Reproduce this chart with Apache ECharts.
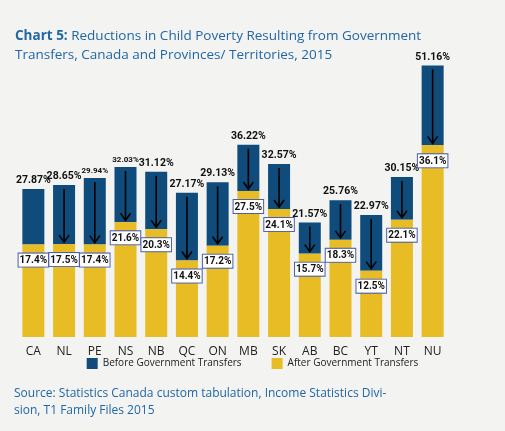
<!DOCTYPE html>
<html lang="en">
<head>
<meta charset="UTF-8" />
<title>Chart 5</title>
<script src="https://cdn.jsdelivr.net/npm/echarts@6/dist/echarts.min.js"></script>
<style>
  html, body { margin: 0; padding: 0; background: #f3f3f1; }
  #chart { width: 505px; height: 431px; }
</style>
</head>
<body>
<div id="chart"></div>
<script>
const regions = ['CA', 'NL', 'PE', 'NS', 'NB', 'QC', 'ON', 'MB', 'SK', 'AB', 'BC', 'YT', 'NT', 'NU'];
const beforeTransfers = [27.87, 28.65, 29.94, 32.03, 31.12, 27.17, 29.13, 36.22, 32.57, 21.57, 25.76, 22.97, 30.15, 51.16];
const afterTransfers = [17.4, 17.5, 17.4, 21.6, 20.3, 14.4, 17.2, 27.5, 24.1, 15.7, 18.3, 12.5, 22.1, 36.1];
// CA has no arrow in the original
const showArrow = [false, true, true, true, true, true, true, true, true, true, true, true, true, true];
// PE and NS labels are printed smaller
const smallLabel = [false, false, true, true, false, false, false, false, false, false, false, false, false, false];

const navy = '#0f4c7c';
const yellow = '#e7bc25';
const blueText = '#2167a6';

const chart = echarts.init(document.getElementById('chart'));

chart.setOption({
  backgroundColor: '#f3f3f1',
  title: {
    text: '{b|Chart 5:} Reductions in Child Poverty Resulting from Government\nTransfers, Canada and Provinces/ Territories, 2015',
    left: 10, top: 22,
    textStyle: {
      fontFamily: 'Open Sans', fontSize: 13.5, fontWeight: 'normal', color: blueText, lineHeight: 19,
      rich: { b: { fontFamily: 'Open Sans', fontSize: 13.5, fontWeight: 'bold', color: blueText } }
    }
  },
  grid: { left: 18, right: 57, top: 45, bottom: 94 },
  xAxis: {
    type: 'category', data: regions,
    axisLine: { show: false }, axisTick: { show: false },
    axisLabel: { color: '#222', fontFamily: 'Open Sans', fontSize: 12, margin: 9 }
  },
  yAxis: { type: 'value', min: 0, max: 55, show: false, splitLine: { show: false } },
  legend: {
    bottom: 57, left: 'center', itemWidth: 11, itemHeight: 11, itemGap: 30,
    icon: 'rect',
    textStyle: { fontFamily: 'Open Sans', fontSize: 10, color: '#222' },
    data: ['Before Government Transfers', 'After Government Transfers']
  },
  graphic: [{
    type: 'text', left: 14, top: 385,
    style: {
      text: 'Source: Statistics Canada custom tabulation, Income Statistics Divi-\nsion, T1 Family Files 2015',
      fill: blueText, font: '12px "Open Sans"', lineHeight: 17
    }
  }],
  series: [
    {
      name: 'After Government Transfers', type: 'bar', stack: 'p', barWidth: 22,
      itemStyle: { color: yellow },
      data: afterTransfers,
      label: {
        show: true, position: 'insideTop', offset: [0, 4],
        formatter: p => p.value + '%',
        backgroundColor: '#fff', borderColor: '#4a5fa8', borderWidth: 1,
        padding: [2, 1, 1, 1], color: '#111', fontFamily: 'Roboto', fontWeight: 'bold', fontSize: 10
      },
      z: 3
    },
    {
      name: 'Before Government Transfers', type: 'bar', stack: 'p', barWidth: 22,
      itemStyle: { color: navy },
      data: beforeTransfers.map((v, i) => +(v - afterTransfers[i]).toFixed(2)),
      label: {
        show: true, position: 'top', distance: 3,
        formatter: p => {
          const t = beforeTransfers[p.dataIndex].toFixed(2) + '%';
          return smallLabel[p.dataIndex] ? '{s|' + t + '}' : '{n|' + t + '}';
        },
        rich: {
          n: { color: '#111', fontFamily: 'Roboto', fontWeight: 'bold', fontSize: 10.5 },
          s: { color: '#111', fontFamily: 'Roboto', fontWeight: 'bold', fontSize: 8 }
        }
      },
      z: 2
    },
    {
      type: 'custom', name: 'arrows', silent: true, z: 5,
      data: regions.map((r, i) => [i, beforeTransfers[i], afterTransfers[i]]),
      renderItem: function (params, api) {
        const i = api.value(0);
        if (!showArrow[i]) return null;
        const top = api.coord([i, api.value(1)]);
        const bot = api.coord([i, api.value(2)]);
        const x = top[0], y1 = top[1] + 4, y2 = bot[1] - 2;
        return {
          type: 'group',
          children: [
            { type: 'line', shape: { x1: x, y1: y1, x2: x, y2: y2 }, style: { stroke: '#000', lineWidth: 1.6 } },
            { type: 'polyline', shape: { points: [[x - 5, y2 - 7], [x, y2], [x + 5, y2 - 7]] }, style: { stroke: '#000', lineWidth: 1.6, fill: null } }
          ]
        };
      }
    }
  ]
});
</script>
</body>
</html>
